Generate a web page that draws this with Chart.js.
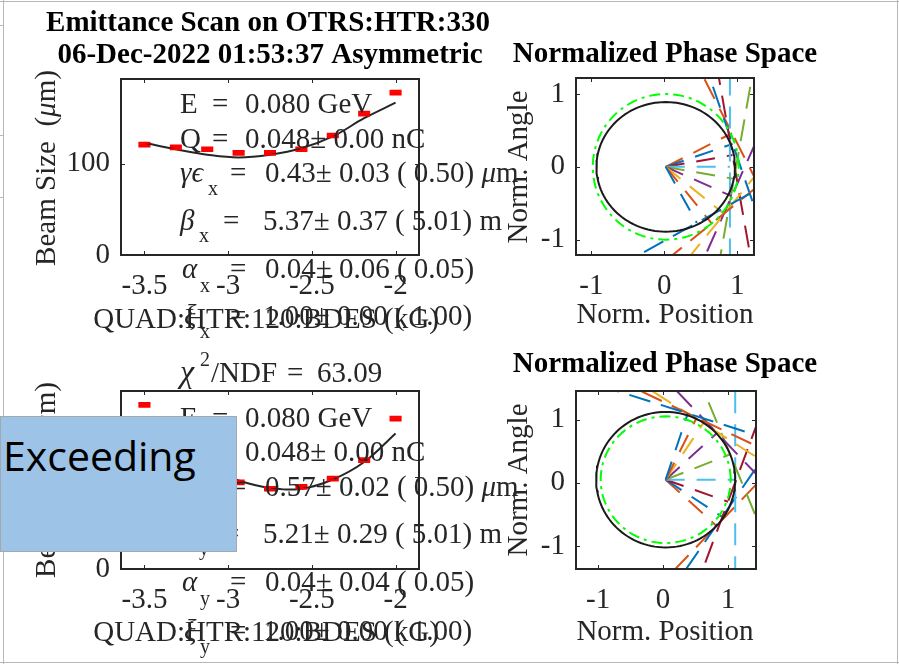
<!DOCTYPE html>
<html>
<head>
<meta charset="utf-8">
<script src="https://cdn.jsdelivr.net/npm/chart.js@4.4.1/dist/chart.umd.min.js"></script>
<style>
  body { margin: 0; background: #fff; }
  #page { position: relative; width: 899px; height: 664px; overflow: hidden; background: #fff; }
  #page canvas { position: absolute; left: 0; top: 0; }
  .edge { position: absolute; background: #b8b8b8; }
  #note { position: absolute; left: 0; top: 416px; width: 237px; height: 136px; box-sizing: border-box;
          background: #9dc3e6; border: 1px solid #a3a9b0; }
  #note span { position: absolute; left: 2px; top: 18px; font-family: "Open Sans", sans-serif; font-size: 41px; line-height: 40px; color: #000; }
</style>
</head>
<body>
<div id="page">
  <div class="edge" style="left:0;top:1px;width:899px;height:1px"></div>
  <div class="edge" style="left:3px;top:0;width:1px;height:664px"></div>
  <div class="edge" style="left:897px;top:0;width:1px;height:664px"></div>
  <div class="edge" style="left:0;top:662px;width:899px;height:1px"></div>
  <div class="edge" style="left:0;top:25px;width:3px;height:1px"></div>
  <div class="edge" style="left:0;top:135px;width:3px;height:1px"></div>
  <div class="edge" style="left:0;top:197px;width:3px;height:1px"></div>
  <canvas id="scanX" width="899" height="664"></canvas>
  <canvas id="phaseX" width="899" height="664"></canvas>
  <canvas id="scanY" width="899" height="664"></canvas>
  <canvas id="phaseY" width="899" height="664"></canvas>
  <div id="note"><span>Exceeding</span></div>
</div>
<script>
// quad scan settings (kG) and measured beam sizes (um)
const quadVals = [-3.5, -3.3125, -3.125, -2.9375, -2.75, -2.5625, -2.375, -2.1875, -2.0];
const sizeX = [121, 118, 116, 112, 112, 116, 131, 155, 178];
const errX = [2, 2, 2, 2, 2, 2, 2, 2, 2];
const fitX = [123, 116, 110, 107, 110, 117, 130, 150, 167];
const sizeY = [178, 140, 118, 94, 87, 89, 98, 118, 163];
const errY = [2, 2, 2, 2, 2, 2, 2, 2, 2];
const fitY = [158, 130, 110, 96, 88, 87, 97, 116, 147];

const quadTicks = [-3.5, -3, -2.5, -2];
const sizeTicks = [0, 100];
const phaseTicks = [-1, 0, 1];

// normalized phase space: measured ellipse [cx, cy, rx, ry], design circle, measurement angles (deg) and distances
const ellX = [0.02, 0, 0.95, 0.89];
const designX = [0.02, 0, 1, 1];
const angX = [-61, -51, -39, -24, -10, 0, 10, 19, 27];
const distX = [0.88, 1.0, 1.03, 0.99, 0.95, 0.88, 0.93, 0.97, 1.02];
const ellY = [0.04, 0.05, 1.07, 1.07];
const designY = [0.04, 0.05, 1, 1];
const angY = [72, 64, 57, 43, 22, 0, -20, -34, -43];
const distY = [1.10, 1.09, 1.06, 1.08, 1.07, 1.07, 1.02, 1.05, 1.07];

const textX = ['0.080 GeV', '0.048\u00b1 0.00 nC', '0.43\u00b1 0.03 ( 0.50) ', '5.37\u00b1 0.37 ( 5.01) m', '0.04\u00b1 0.06 ( 0.05)', '1.00\u00b1 0.00 ( 1.00)'];
const textY = ['0.080 GeV', '0.048\u00b1 0.00 nC', '0.57\u00b1 0.02 ( 0.50) ', '5.21\u00b1 0.29 ( 5.01) m', '0.04\u00b1 0.04 ( 0.05)', '1.00\u00b1 0.00 ( 1.00)'];
const chi2 = '63.09';

const W = 899, H = 664;
const serif = '"Liberation Serif", "DejaVu Serif", serif';
const ink = '#262626';
const lineColors = ['#0072BD', '#D95319', '#EDB120', '#7E2F8E', '#77AC30', '#4DBEEE', '#A2142F'];
const FS = 29, SUB = 20;

// draws the free text of each panel (titles, labels, fit results)
const textPlugin = {
    id: 'textLayer',
    afterDraw(chart, args, opts) {
        const ctx = chart.ctx;
        (opts.items || []).forEach(it => {
            const size = it.size || FS;
            const runs = Array.isArray(it.t) ? it.t : [[it.t, 0]];
            const fontOf = r => (r[1] ? 'italic ' : '') + (it.bold ? 'bold ' : '') + size + 'px ' + serif;
            ctx.save();
            ctx.fillStyle = it.color || ink;
            ctx.textBaseline = 'alphabetic';
            ctx.textAlign = 'left';
            ctx.translate(it.x, it.y);
            if (it.rot) ctx.rotate(it.rot * Math.PI / 180);
            let total = 0;
            runs.forEach(r => { ctx.font = fontOf(r); total += ctx.measureText(r[0]).width; });
            let x = it.align === 'center' ? -total / 2 : 0;
            runs.forEach(r => {
                ctx.font = fontOf(r);
                ctx.fillText(r[0], x, 0);
                x += ctx.measureText(r[0]).width;
            });
            ctx.restore();
        });
    }
};

// matlab style box with inward ticks
const boxPlugin = {
    id: 'axesBox',
    afterDraw(chart) {
        const ctx = chart.ctx, a = chart.chartArea;
        const xs = chart.scales.x, ys = chart.scales.y;
        ctx.save();
        ctx.strokeStyle = ink;
        ctx.lineWidth = 1;
        ctx.beginPath();
        xs.ticks.forEach(t => {
            const p = Math.round(xs.getPixelForValue(t.value)) + 0.5;
            ctx.moveTo(p, a.bottom); ctx.lineTo(p, a.bottom - 4);
            ctx.moveTo(p, a.top); ctx.lineTo(p, a.top + 4);
        });
        ys.ticks.forEach(t => {
            const p = Math.round(ys.getPixelForValue(t.value)) + 0.5;
            ctx.moveTo(a.left, p); ctx.lineTo(a.left + 4, p);
            ctx.moveTo(a.right, p); ctx.lineTo(a.right - 4, p);
        });
        ctx.stroke();
        ctx.lineWidth = 2;
        ctx.strokeRect(a.left, a.top, a.right - a.left, a.bottom - a.top);
        ctx.restore();
    }
};

// red error bars
const errPlugin = {
    id: 'errBars',
    afterDatasetsDraw(chart, args, opts) {
        if (!opts.vals) return;
        const ctx = chart.ctx, xs = chart.scales.x, ys = chart.scales.y;
        ctx.save();
        ctx.strokeStyle = '#ff0000';
        ctx.lineWidth = 2;
        ctx.beginPath();
        opts.vals.forEach((v, i) => {
            const px = xs.getPixelForValue(quadVals[i]);
            const y1 = ys.getPixelForValue(v - opts.errs[i]);
            const y2 = ys.getPixelForValue(v + opts.errs[i]);
            ctx.moveTo(px, y1); ctx.lineTo(px, y2);
            ctx.moveTo(px - 6, y1); ctx.lineTo(px + 6, y1);
            ctx.moveTo(px - 6, y2); ctx.lineTo(px + 6, y2);
        });
        ctx.stroke();
        ctx.restore();
    }
};

function axis(range, ticks, dir) {
    return {
        type: 'linear',
        min: range[0],
        max: range[1],
        grid: { display: false, drawTicks: false },
        border: { display: false },
        afterBuildTicks: s => { s.ticks = ticks.map(v => ({ value: v })); },
        afterFit: s => { if (dir === 'x') s.height = 50; else s.width = 70; },
        ticks: {
            color: ink,
            font: { family: serif, size: FS },
            padding: dir === 'x' ? 14 : 11,
            maxRotation: 0,
            autoSkip: false,
            callback: v => String(v)
        }
    };
}

function panel(id, area, xr, yr, xt, yt, datasets, pluginOpts) {
    return new Chart(document.getElementById(id), {
        type: 'scatter',
        data: { datasets },
        options: {
            responsive: false,
            animation: false,
            layout: { padding: { left: area[0] - 70, top: area[1], right: W - area[2], bottom: H - area[3] - 50 } },
            scales: { x: axis(xr, xt, 'x'), y: axis(yr, yt, 'y') },
            plugins: Object.assign({ legend: { display: false }, tooltip: { enabled: false } }, pluginOpts)
        },
        plugins: [errPlugin, boxPlugin, textPlugin]
    });
}

function scanSets(vals, fit) {
    return [
        {
            data: quadVals.map((q, i) => ({ x: q, y: fit[i] })),
            showLine: true, borderColor: ink, borderWidth: 2, pointRadius: 0, tension: 0.4
        },
        {
            data: quadVals.map((q, i) => ({ x: q, y: vals[i] })),
            pointStyle: 'line', pointRadius: 6, borderColor: '#ff0000', borderWidth: 3
        }
    ];
}

function ellipsePts(e) {
    const pts = [];
    for (let k = 0; k <= 120; k++) {
        const a = k / 120 * 2 * Math.PI;
        pts.push({ x: e[0] + e[2] * Math.cos(a), y: e[1] + e[3] * Math.sin(a) });
    }
    return pts;
}

function phaseSets(ell, design, ang, dist) {
    const sets = [
        { data: ellipsePts(ell), showLine: true, borderColor: '#1a1a1a', borderWidth: 2, pointRadius: 0 },
        { data: ellipsePts(design), showLine: true, borderColor: '#00ff00', borderWidth: 2, borderDash: [11, 5, 3, 5], pointRadius: 0 }
    ];
    ang.forEach((deg, i) => {
        const t = deg * Math.PI / 180, c = Math.cos(t), s = Math.sin(t);
        const fx = ell[0] + dist[i] * c, fy = ell[1] + dist[i] * s;
        const col = lineColors[i % lineColors.length];
        sets.push({ data: [{ x: ell[0], y: ell[1] }, { x: fx, y: fy }], showLine: true, borderColor: col, borderWidth: 2, borderDash: [19, 12], pointRadius: 0 });
        sets.push({ data: [{ x: fx - 4 * s, y: fy + 4 * c }, { x: fx + 4 * s, y: fy - 4 * c }], showLine: true, borderColor: col, borderWidth: 2, borderDash: [22, 11], pointRadius: 0 });
    });
    return sets;
}

function paramItems(sub, vals, ys) {
    return [
        { t: 'E', x: 180, y: ys[0] }, { t: '=', x: 212, y: ys[0] }, { t: vals[0], x: 245, y: ys[0] },
        { t: 'Q', x: 180, y: ys[1] }, { t: '=', x: 212, y: ys[1] }, { t: vals[1], x: 245, y: ys[1] },
        { t: [['\u03b3\u03f5', 1]], x: 180, y: ys[2] }, { t: sub, x: 208, y: ys[2] + 13, size: SUB },
        { t: '=', x: 230, y: ys[2] }, { t: [[vals[2], 0], ['\u03bc', 1], ['m', 0]], x: 265, y: ys[2] },
        { t: [['\u03b2', 1]], x: 180, y: ys[3] }, { t: sub, x: 199, y: ys[3] + 12, size: SUB },
        { t: '=', x: 223, y: ys[3] }, { t: vals[3], x: 263, y: ys[3] },
        { t: [['\u03b1', 1]], x: 182, y: ys[4] }, { t: sub, x: 200, y: ys[4] + 14, size: SUB },
        { t: '=', x: 230, y: ys[4] }, { t: vals[4], x: 265, y: ys[4] },
        { t: [['\u03be', 1]], x: 184, y: ys[5] }, { t: sub, x: 200, y: ys[5] + 13, size: SUB },
        { t: '=', x: 230, y: ys[5] }, { t: vals[5], x: 263, y: ys[5] }
    ];
}

const beamLabel = [['Beam Size  (', 0], ['\u03bc', 1], ['m)', 0]];
const quadLabel = 'QUAD:HTR:120:BDES (kG)';

panel('scanX', [121, 79, 419, 255], [-3.64, -1.86], [0, 193], quadTicks, sizeTicks, scanSets(sizeX, fitX), {
    errBars: { vals: sizeX, errs: errX },
    textLayer: {
        items: [
            { t: 'Emittance Scan on OTRS:HTR:330', x: 268, y: 31, bold: true, align: 'center', color: '#000' },
            { t: '06-Dec-2022 01:53:37 Asymmetric', x: 270, y: 63, bold: true, align: 'center', color: '#000' },
            { t: beamLabel, x: 55, y: 168, rot: -90, align: 'center' },
            { t: quadLabel, x: 266, y: 328, align: 'center' }
        ].concat(paramItems('x', textX, [113, 148, 182, 230, 278, 325]))
    }
});

panel('phaseX', [576, 78, 754, 255], [-1.21, 1.23], [-1.21, 1.22], phaseTicks, phaseTicks, phaseSets(ellX, designX, angX, distX), {
    textLayer: {
        items: [
            { t: 'Normalized Phase Space', x: 665, y: 62, bold: true, align: 'center', color: '#000' },
            { t: 'Norm. Angle', x: 527, y: 167, rot: -90, align: 'center' },
            { t: 'Norm. Position', x: 665, y: 323, align: 'center' }
        ]
    }
});

panel('scanY', [121, 391, 419, 569], [-3.64, -1.86], [0, 193], quadTicks, sizeTicks, scanSets(sizeY, fitY), {
    errBars: { vals: sizeY, errs: errY },
    textLayer: {
        items: [
            { t: [['\u03c7', 1]], x: 180, y: 382, size: 32 }, { t: '2', x: 200, y: 366, size: SUB },
            { t: '/NDF', x: 211, y: 382 }, { t: '=', x: 287, y: 382 }, { t: chi2, x: 317, y: 382 },
            { t: beamLabel, x: 55, y: 480, rot: -90, align: 'center' },
            { t: quadLabel, x: 266, y: 641, align: 'center' }
        ].concat(paramItems('y', textY, [427, 461, 496, 543, 591, 640]))
    }
});

panel('phaseY', [576, 391, 756, 569], [-1.34, 1.43], [-1.36, 1.45], phaseTicks, phaseTicks, phaseSets(ellY, designY, angY, distY), {
    textLayer: {
        items: [
            { t: 'Normalized Phase Space', x: 665, y: 372, bold: true, align: 'center', color: '#000' },
            { t: 'Norm. Angle', x: 527, y: 480, rot: -90, align: 'center' },
            { t: 'Norm. Position', x: 665, y: 640, align: 'center' }
        ]
    }
});
</script>
</body>
</html>
